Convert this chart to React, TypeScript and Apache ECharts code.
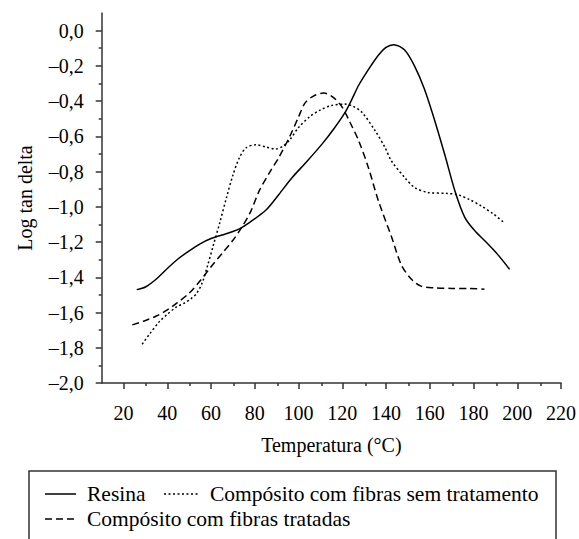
import React, { useEffect, useRef } from "react";
import * as echarts from "echarts";

const FONT = "Liberation Serif";

const xTickValues = [20, 40, 60, 80, 100, 120, 140, 160, 180, 200, 220];
const xMinorTickValues = [30, 50, 70, 90, 110, 130, 150, 170, 190, 210];
const yTickValues = [-2.0, -1.8, -1.6, -1.4, -1.2, -1.0, -0.8, -0.6, -0.4, -0.2, 0.0];
const yMinorTickValues = [-1.9, -1.7, -1.5, -1.3, -1.1, -0.9, -0.7, -0.5, -0.3, -0.1];

const seriesNames = ["Resina", "Compósito com fibras sem tratamento", "Compósito com fibras tratadas"];

const resinaT = [26, 30, 35, 40, 45, 50, 55, 60, 65, 70, 73, 78, 85, 91, 97, 104, 111, 116, 121, 124, 127.5, 132, 136.5, 140, 143.5, 148.5, 153, 157.5, 162, 167, 171.5, 176, 180.5, 186.5, 191, 196.5];
const resinaLog = [-1.47, -1.455, -1.41, -1.35, -1.295, -1.25, -1.21, -1.18, -1.16, -1.14, -1.125, -1.085, -1.02, -0.93, -0.835, -0.74, -0.64, -0.56, -0.47, -0.4, -0.31, -0.22, -0.14, -0.095, -0.08, -0.11, -0.2, -0.33, -0.5, -0.71, -0.91, -1.06, -1.135, -1.21, -1.27, -1.355];

const semT = [28.5, 32, 36.5, 40, 44, 48, 51, 53.5, 56, 58.5, 61, 64, 67, 70, 73, 76, 80.5, 85, 89.5, 93, 96, 100, 105, 110, 115, 121, 125, 129, 135, 139.5, 142.5, 148.5, 153, 159, 168, 173, 178, 183.5, 189, 194];
const semLog = [-1.78, -1.72, -1.65, -1.61, -1.57, -1.545, -1.52, -1.49, -1.43, -1.33, -1.22, -1.09, -0.95, -0.82, -0.72, -0.665, -0.648, -0.66, -0.672, -0.655, -0.62, -0.55, -0.49, -0.45, -0.425, -0.417, -0.43, -0.464, -0.568, -0.663, -0.74, -0.833, -0.89, -0.918, -0.924, -0.932, -0.958, -0.995, -1.04, -1.09];

const tratT = [24, 30, 35, 40, 44, 50, 55, 60, 65, 70, 73.5, 78, 82, 87, 91, 96, 100, 103, 107, 111.5, 116, 120, 123.5, 127.5, 132, 136.5, 142.5, 147, 151.5, 156, 162, 170, 178, 185];
const tratLog = [-1.67, -1.645, -1.62, -1.585, -1.55, -1.49, -1.42, -1.34, -1.265, -1.19, -1.127, -1.03, -0.91, -0.8, -0.72, -0.6, -0.49, -0.41, -0.37, -0.354, -0.38, -0.436, -0.52, -0.625, -0.78, -0.966, -1.17, -1.33, -1.41, -1.45, -1.46, -1.463, -1.463, -1.468];

const zip = (xs: number[], ys: number[]) => xs.map((x, i) => [x, ys[i]]);

const fmtY = (v: number) => {
  const s = Math.abs(v).toFixed(1).replace(".", ",");
  return v < -1e-9 ? "\u2013" + s : s;
};

export default function App() {
  const ref = useRef<HTMLDivElement>(null);
  useEffect(() => {
    document.body.style.margin = "0";
    if (!ref.current) return;
    const chart = echarts.init(ref.current, null, { renderer: "svg" });
    const axisColor = "#333";
    const txt = { fontFamily: FONT, fontSize: 20, color: "#000" };
    const legendFont = 21.5;
    const gridBox = { left: 101.7, right: 16, top: 13, bottom: 156, containLabel: false };
    chart.setOption({
      animation: false,
      backgroundColor: "#fff",
      grid: [gridBox, gridBox],
      xAxis: [
        {
          type: "value",
          gridIndex: 0,
          min: 10,
          max: 220,
          position: "bottom",
          name: "Temperatura (°C)",
          nameLocation: "middle",
          nameGap: 52,
          nameTextStyle: txt,
          axisLine: { show: true, onZero: false, lineStyle: { color: axisColor, width: 1.5 } },
          axisTick: { show: true, customValues: xTickValues, length: 6, lineStyle: { color: axisColor, width: 1.5 } },
          axisLabel: { customValues: xTickValues, margin: 20, ...txt },
          splitLine: { show: false },
        },
        {
          type: "value",
          gridIndex: 1,
          min: 10,
          max: 220,
          position: "bottom",
          axisLine: { show: false, onZero: false },
          axisTick: { show: true, customValues: xMinorTickValues, length: 3, lineStyle: { color: axisColor, width: 1.5 } },
          axisLabel: { show: false },
          splitLine: { show: false },
        },
      ],
      yAxis: [
        {
          type: "value",
          gridIndex: 0,
          min: -2.0,
          max: 0.1,
          position: "left",
          name: "Log tan delta",
          nameLocation: "middle",
          nameGap: 67,
          nameTextStyle: txt,
          axisLine: { show: true, onZero: false, lineStyle: { color: axisColor, width: 1.5 } },
          axisTick: { show: true, customValues: yTickValues, length: 6, lineStyle: { color: axisColor, width: 1.5 } },
          axisLabel: { customValues: yTickValues, margin: 18, formatter: fmtY, ...txt },
          splitLine: { show: false },
        },
        {
          type: "value",
          gridIndex: 1,
          min: -2.0,
          max: 0.1,
          position: "left",
          axisLine: { show: false, onZero: false },
          axisTick: { show: true, customValues: yMinorTickValues, length: 3, lineStyle: { color: axisColor, width: 1.5 } },
          axisLabel: { show: false },
          splitLine: { show: false },
        },
      ],
      series: [
        {
          name: seriesNames[0],
          type: "line",
          data: zip(resinaT, resinaLog),
          smooth: 0.3,
          showSymbol: false,
          lineStyle: { color: "#000", width: 1.5, type: "solid" },
        },
        {
          name: seriesNames[1],
          type: "line",
          data: zip(semT, semLog),
          smooth: 0.3,
          showSymbol: false,
          lineStyle: { color: "#000", width: 1.5, type: [2, 2.5] },
        },
        {
          name: seriesNames[2],
          type: "line",
          data: zip(tratT, tratLog),
          smooth: 0.3,
          showSymbol: false,
          lineStyle: { color: "#000", width: 1.5, type: [7, 4] },
        },
      ],
      graphic: [
        {
          type: "rect",
          shape: { x: 29, y: 471, width: 527, height: 90 },
          style: { fill: "none", stroke: axisColor, lineWidth: 1.5 },
          silent: true,
        },
        {
          type: "line",
          shape: { x1: 45, y1: 494, x2: 76, y2: 494 },
          style: { stroke: "#000", lineWidth: 1.5 },
        },
        {
          type: "text",
          x: 87,
          y: 494,
          style: { text: seriesNames[0], fontFamily: FONT, fontSize: legendFont, fill: "#000", verticalAlign: "middle" },
        },
        {
          type: "line",
          shape: { x1: 164, y1: 494, x2: 198, y2: 494 },
          style: { stroke: "#000", lineWidth: 1.5, lineDash: [2, 2.5] },
        },
        {
          type: "text",
          x: 210,
          y: 494,
          style: { text: seriesNames[1], fontFamily: FONT, fontSize: legendFont, fill: "#000", verticalAlign: "middle" },
        },
        {
          type: "line",
          shape: { x1: 45, y1: 519, x2: 76, y2: 519 },
          style: { stroke: "#000", lineWidth: 1.5, lineDash: [7, 4] },
        },
        {
          type: "text",
          x: 87,
          y: 519,
          style: { text: seriesNames[2], fontFamily: FONT, fontSize: legendFont, fill: "#000", verticalAlign: "middle" },
        },
      ],
    });
    return () => chart.dispose();
  }, []);
  return <div ref={ref} style={{ width: 579, height: 539 }} />;
}
